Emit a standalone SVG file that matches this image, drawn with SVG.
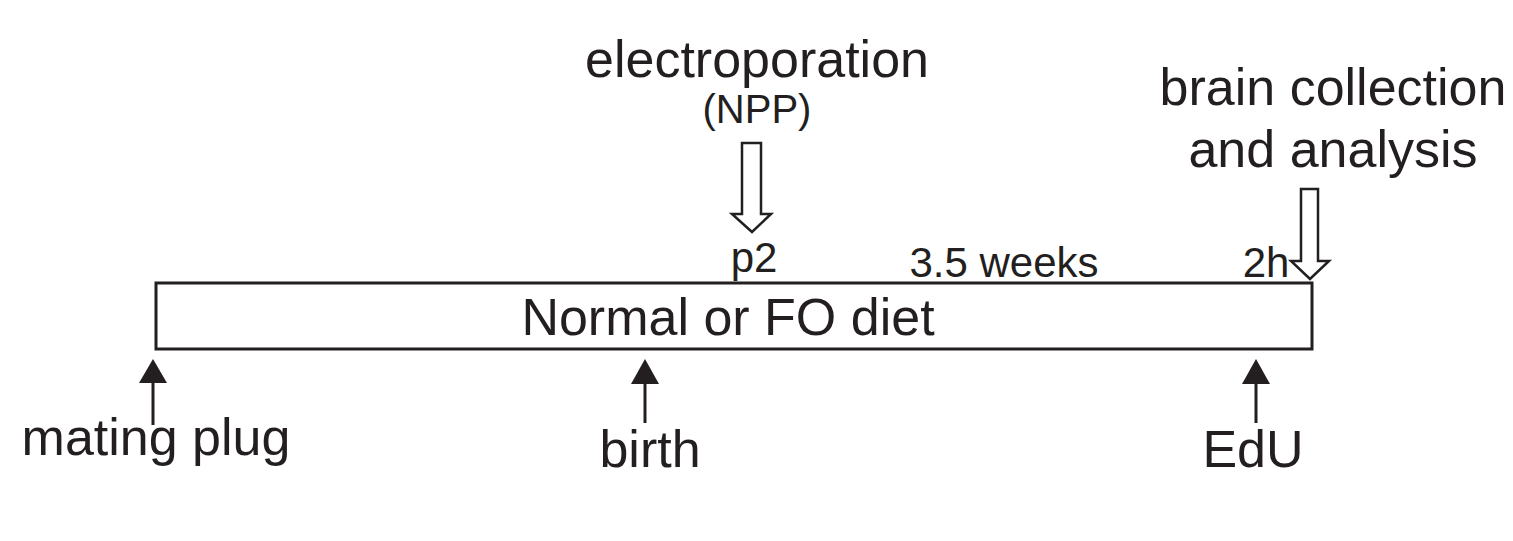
<svg xmlns="http://www.w3.org/2000/svg" width="1513" height="541" viewBox="0 0 1513 541">
<style>
text{font-family:"Liberation Sans",Arial,sans-serif;fill:#231f20;text-anchor:middle}
.big{font-size:52px}
.mid{font-size:42px}
.sm{font-size:40px}
.line{stroke:#231f20;stroke-width:3;fill:none}
.hollow{stroke:#231f20;stroke-width:2.5;fill:#fff;stroke-linejoin:miter}
.head{fill:#231f20}
</style>
<rect width="1513" height="541" fill="#fff"/>
<g id="timeline">
<rect x="156" y="283" width="1156" height="66" class="line"/>
<text class="big" x="728" y="335">Normal or FO diet</text>
</g>
<g id="electroporation">
<text class="big" x="757" y="77">electroporation</text>
<text class="sm" x="757" y="123">(NPP)</text>
</g>
<g id="p2"><text class="mid" x="754" y="272">p2</text></g>
<g id="weeks"><text class="mid" x="1004" y="277">3.5 weeks</text></g>
<g id="h2"><text class="mid" x="1266" y="277">2h</text></g>
<g id="brain">
<text class="big" x="1333" y="105">brain collection</text>
<text class="big" x="1333" y="167">and analysis</text>
</g>
<g id="mating"><text class="big" x="156" y="455">mating plug</text></g>
<g id="birth"><text class="big" x="650" y="467">birth</text></g>
<g id="edu"><text class="big" x="1253" y="467">EdU</text></g>
<g id="connectors">
<path class="hollow" d="M742,143 H761 V214 H771 L752,232 L732,214 H742 Z"/>
<path class="hollow" d="M1301,189 H1318 V261 H1329 L1310,279 L1291,261 H1301 Z"/>
<line class="line" x1="153" y1="380" x2="153" y2="425"/>
<polygon class="head" points="153,359 167,383 139,383"/>
<line class="line" x1="645" y1="380" x2="645" y2="423"/>
<polygon class="head" points="645,359 659,384 631,384"/>
<line class="line" x1="1256" y1="380" x2="1256" y2="423"/>
<polygon class="head" points="1256,359 1270,384 1242,384"/>
</g>
</svg>
